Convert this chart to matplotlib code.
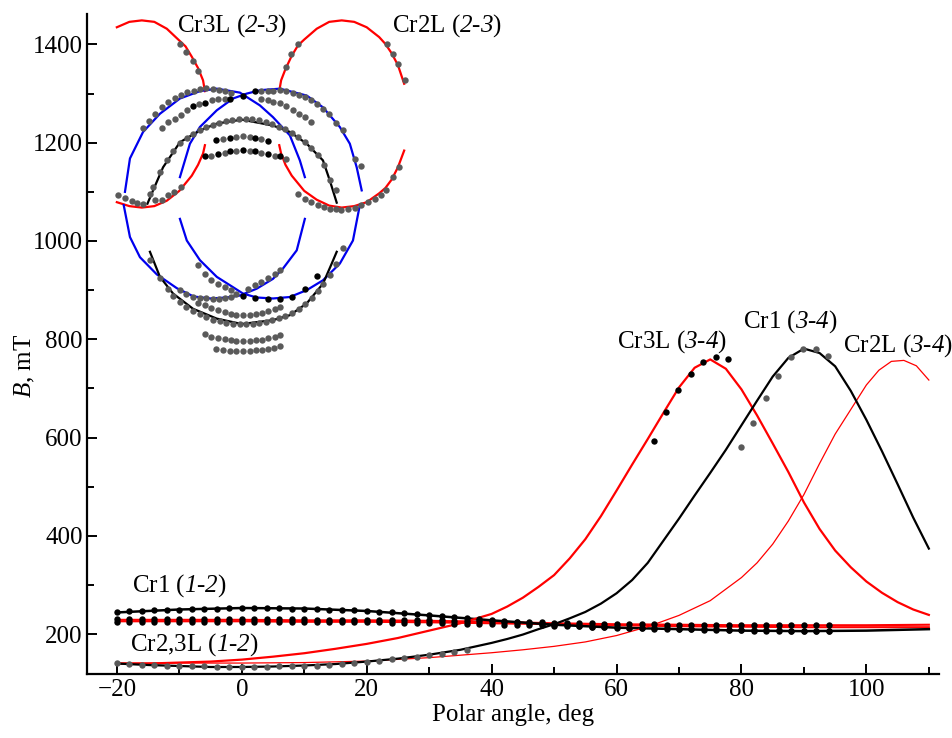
import numpy as np
import matplotlib
matplotlib.use("Agg")
import matplotlib.pyplot as plt
from matplotlib.ticker import MultipleLocator

plt.rcParams['font.family'] = ['Liberation Serif', 'DejaVu Serif']
plt.rcParams['mathtext.fontset'] = 'custom'
# digits in mathtext are taken from the "rm" font, so make it italic too
plt.rcParams['mathtext.rm'] = 'Liberation Serif:italic'
plt.rcParams['mathtext.it'] = 'Liberation Serif:italic'

GRAY = "#5a5a5a"

# ---------------- low-field branch (1-2) ----------------
ang_12 = [-20, -10, 0, 10, 20, 30, 40, 50, 60, 70, 80, 90, 100, 110]
cr1_12 = [244, 250, 253, 252, 247, 238, 228, 219, 213, 210, 207, 206, 207, 210]
cr23_12a = [229, 229, 229, 228, 228, 227, 225, 222, 220, 219, 218, 218, 218, 219]
cr23_12b = [226, 226, 226, 225, 225, 224, 222, 220, 218, 216, 215, 214, 214, 214]

# measured points on the (1-2) lines, every 2 deg
dots12_x = list(range(-20, 96, 2))
dots_cr1_12 = [244, 246, 247, 248, 249, 250, 251, 252, 252, 253, 253, 253, 253, 253, 252,
               252, 251, 250, 249, 248, 247, 245, 244, 242, 240, 238, 236, 234, 232, 230,
               228, 226, 224, 222, 221, 219, 218, 217, 215, 214, 213, 212, 212, 211, 211,
               210, 210, 209, 209, 208, 208, 207, 207, 207, 206, 206, 206, 206]
dots_cr23_12a = [230, 230, 230, 230, 230, 230, 230, 230, 230, 230, 230, 230, 230, 230, 230,
                 230, 229, 229, 229, 229, 229, 229, 229, 228, 228, 228, 228, 227, 227, 226,
                 226, 225, 225, 224, 224, 223, 223, 222, 222, 221, 221, 220, 220, 220, 219,
                 219, 219, 219, 218, 218, 218, 218, 218, 218, 218, 218, 218, 218]
dots_cr23_12b = [225, 225, 225, 225, 225, 225, 225, 225, 225, 225, 225, 225, 225, 225, 225,
                 225, 224, 224, 224, 224, 224, 224, 223, 223, 223, 222, 222, 221, 221, 220,
                 220, 219, 219, 218, 218, 217, 217, 216, 215, 214, 214, 213, 213, 212, 212,
                 211, 211, 210, 210, 209, 209, 208, 208, 208, 207, 207, 207, 207]
dots23L_x = list(range(-20, 38, 2))
dots23L_12 = [141, 139, 138, 137, 136, 135, 134, 134, 133, 133, 133, 133, 133, 134, 134,
              135, 136, 138, 140, 142, 144, 146, 149, 151, 154, 157, 160, 163, 167]

# ---------------- high-field branch (3-4) ----------------
ang_cr1_34 = [-20, -15, -10, -5, 0, 5, 10, 15, 20, 25, 30, 35, 40, 42.5, 45, 47.5, 50, 52.5,
              55, 57.5, 60, 62.5, 65, 67.5, 70, 72.5, 75, 77.5, 80, 82.5, 85, 87.5, 90,
              92.5, 95, 97.5, 100, 102.5, 105, 107.5, 110]
cr1_34 = [140, 137, 135, 133, 133, 134, 136, 139, 144, 150, 158, 168, 182, 190, 199, 210,
          220, 232, 245, 262, 283, 310, 345, 390, 435, 482, 528, 575, 625, 675, 724, 762,
          781, 772, 745, 695, 636, 572, 505, 437, 374]
ang_cr3_34 = [-20, -15, -10, -5, 0, 5, 10, 15, 20, 25, 30, 35, 40, 42.5, 45, 47.5, 50, 52.5,
              55, 57.5, 60, 62.5, 65, 67.5, 70, 72.5, 75, 77.5, 80, 82.5, 85, 87.5, 90,
              92.5, 95, 97.5, 100, 102.5, 105, 107.5, 110]
cr3_34 = [140, 140, 142, 144, 148, 154, 161, 170, 180, 192, 207, 222, 241, 256, 274, 296,
          320, 354, 393, 440, 492, 545, 597, 650, 702, 742, 759, 740, 698, 645, 588, 530,
          468, 414, 370, 336, 307, 284, 265, 250, 239]
ang_cr2_34 = [-20, -10, 0, 10, 20, 30, 40, 45, 50, 55, 60, 65, 70, 75, 80, 82.5, 85, 87.5,
              90, 92.5, 95, 97.5, 100, 102, 104, 106, 108, 110]
cr2_34 = [141, 141, 141, 142, 145, 152, 162, 168, 175, 184, 197, 215, 238, 268, 315, 345,
          383, 430, 484, 547, 607, 657, 707, 737, 755, 757, 746, 717]

dots_cr3_34_x = [66, 67.9, 69.9, 71.9, 73.9, 75.9, 77.9]
dots_cr3_34 = [593, 651, 696, 730, 754, 764, 759]
dots_cr1_34_x = [80, 81.9, 83.9, 85.9, 87.9, 89.9, 91.9, 93.9]
dots_cr1_34 = [580, 630, 681, 725, 763, 780, 781, 766]

# ---------------- (2-3) branch ----------------
cr3_23_up_x = [-20, -18, -16, -14, -12, -10, -9, -8, -7, -6.2, -5.9]
cr3_23_up = [1435, 1446, 1449, 1446, 1432, 1408, 1396, 1375, 1352, 1327, 1305]
cr3_23_lo_x = [-20, -18, -16, -14, -12, -10, -8, -7, -6.2, -5.9]
cr3_23_lo = [1079, 1071, 1068, 1071, 1082, 1102, 1133, 1155, 1178, 1195]
cr2_23_up_x = [6.0, 6.3, 7, 8, 9, 10, 12, 14, 16, 18, 20, 22, 23, 24, 25, 26]
cr2_23_up = [1305, 1327, 1350, 1377, 1398, 1410, 1432, 1446, 1449, 1446, 1435, 1415, 1401,
             1382, 1358, 1320]
cr2_23_lo_x = [6.0, 6.3, 7, 8, 10, 12, 14, 16, 18, 20, 22, 23, 24, 25, 26]
cr2_23_lo = [1195, 1178, 1155, 1133, 1102, 1084, 1072, 1068, 1071, 1079, 1097, 1108, 1125,
             1150, 1184]

blueL_up_x = [-18.7, -17.9, -15.8, -13.1, -9.9, -6.7, -4, -0.3, 2.9, 5, 7.7, 9.3, 10.1]
blueL_up = [1100, 1168, 1222, 1259, 1290, 1305, 1310, 1302, 1276, 1252, 1215, 1164, 1130]
blueL_lo_x = [-18.9, -17.9, -16.3, -13.6, -10.4, -7.7, -5, -2.4, -0.3, 2.4, 5, 6.6, 8.8, 10.1]
blueL_lo = [1073, 1008, 967, 932, 904, 887, 883, 885, 889, 903, 923, 944, 981, 1045]
blueR_up_x = [-9.9, -8.3, -6.7, -4, -1.4, 0.8, 3, 6.1, 10.4, 13, 15.7, 17.3, 18.4, 19.2]
blueR_up = [1130, 1198, 1232, 1266, 1290, 1300, 1307, 1310, 1296, 1272, 1232, 1198, 1150, 1103]
blueR_lo_x = [-9.9, -8.8, -6.7, -4, -1.4, 0.2, 2.4, 5, 7.7, 10.4, 13, 15.7, 17.8, 18.9]
blueR_lo = [1045, 1001, 961, 927, 906, 893, 885, 883, 886, 900, 920, 954, 1001, 1073]

blk_up_x = [-15.1, -14.2, -12.6, -9.9, -6.7, -4, 0, 5, 7.7, 10.4, 13, 14.1, 15.2]
blk_up = [1076, 1103, 1150, 1201, 1225, 1239, 1247, 1235, 1222, 1198, 1164, 1123, 1078]
blk_lo_x = [-14.7, -13.1, -11, -7.8, -4, 0, 5, 7.7, 10.4, 13, 14.4, 15.2]
blk_lo = [978, 927, 893, 862, 842, 831, 839, 849, 873, 913, 954, 978]

# measured points (2-3), grey
rowA_x = [-15.8, -14.8, -13.9, -12.85, -11.8, -10.7, -9.8, -8.75, -7.7, -6.7, -5.65, -4.6,
          -3.6, -2.7, -1.75, 3.15, 4.2, 5.0, 6.1, 7.15, 8.2, 9.2, 10.2, 11.15, 12.1, 13.0,
          14.0, 15.15, 16.2, 18.1, 19.15]
rowA = [1229, 1245, 1259, 1272, 1283, 1292, 1298, 1303, 1306, 1309, 1311, 1310, 1308, 1305,
        1302, 1306, 1306, 1306, 1308, 1305, 1301, 1298, 1293, 1287, 1279, 1269, 1258, 1240,
        1225, 1166, 1152]
rowB_x = [-12.85, -11.8, -10.7, -9.8, -8.75, -6.9, -4.75, -3.8, -2.7, 3.15, 4.2, 5.0, 6.1,
          7.15, 8.2, 9.2, 10.2, 11.15]
rowB = [1229, 1242, 1249, 1257, 1266, 1278, 1286, 1288, 1290, 1290, 1286, 1283, 1280, 1274,
        1266, 1259, 1252, 1243]
rowC_x = [-3, -0.85, 0.2, 1.3, 3.15]
rowC = [1208, 1211, 1213, 1211, 1207]
rowD_x = [-4.85, -2.7, -0.85, 1.3, 3.15, 5.3, 7.15]
rowD = [1174, 1179, 1184, 1184, 1179, 1174, 1166]
rowF_x = [-14.2, -13.1, -12, -11, -9.9, -8.8, -7.8, -6.7, -5.7, -4.6, -3.6, -2.5, -1.5, -0.4,
          0.6, 1.7, 2.7, 3.8, 4.8, 5.9, 6.9, 8, 9, 10.1, 11.1, 12.2, 13.2, 14.2]
rowF = [1110, 1140, 1165, 1183, 1200, 1210, 1218, 1226, 1232, 1237, 1241, 1245, 1247, 1249,
        1249, 1248, 1246, 1242, 1238, 1233, 1227, 1220, 1212, 1202, 1190, 1175, 1155, 1125]
rowE_x = [-19.8, -18.7, -17.65, -16.75, -15.8, -14.7, -13.9, -12.85, -11.8, -10.9, -9.8,
          9, 10.1, 11.15, 12.2, 13.1, 14.1, 15.15, 15.9, 17, 18.1, 19.15, 20.2, 21.3, 22.35,
          23.1, 24.2, 25.2, 15.15]
rowE = [1093, 1088, 1081, 1077, 1076, 1096, 1083, 1083, 1093, 1100, 1110,
        1096, 1086, 1079, 1073, 1069, 1066, 1066, 1064, 1066, 1068, 1073, 1079, 1086, 1093,
        1104, 1130, 1150, 1103]
rowR_x = [-9.9, -8.85, -7.8, -7.0, 7.15, 7.95, 9.0, 23.2, 24.2, 25.0, 26.1]
rowR = [1401, 1384, 1367, 1347, 1354, 1381, 1401, 1401, 1381, 1361, 1327]
rowG_x = [-9.9, -8.85, -7.8, -6.7, -5.65, -4.6, -3.6, -2.7, -1.65]
rowG = [900, 893, 886, 883, 883, 881, 881, 883, 886]
rowV_x = [-7, -5.9, -4.85, -3.8, -2.7, -1.65, -0.85, 1, 2.1, 3.15, 4.2, 5.3, 6.1]
rowV = [951, 932, 921, 913, 906, 900, 893, 903, 910, 917, 924, 932, 940]
rowH_x = [-7, -5.9, -4.85, -3.8, -2.7, -1.65, -0.85, 0.2, 1.3, 2.35, 3.3, 4.2, 5.3, 6.1]
rowH = [873, 869, 864, 859, 856, 852, 850, 849, 849, 852, 854, 857, 862, 866]
rowK_x = [-14.7, -13.1, -11.8, -11, -9.9, -8.85, -7.8, -6.7, -5.65, -4.6, -3.5, -2.45, -1.4,
          -0.3, 0.7, 1.8, 2.8, 3.9, 4.9, 6, 7, 8.1, 9.1, 10.2, 11.2, 12.2, 13, 14.1, 15.15, 16.2]
rowK = [961, 924, 903, 889, 876, 866, 858, 852, 845, 840, 837, 833, 832, 831, 831, 832, 834,
        836, 839, 843, 847, 853, 861, 871, 884, 898, 913, 930, 954, 985]
row800_x = [-5.9, -4.85, -3.8, -2.7, -1.65, -0.85, 0.2, 1.3, 2.35, 3.3, 4.2, 5.3, 6.1]
row800 = [810, 805, 802, 800, 798, 797, 797, 797, 798, 799, 802, 805, 808]
row776_x = [-4.05, -3, -1.9, -0.85, 0.2, 1.3, 2.35, 3.3, 4.2, 5.2, 6.1]
row776 = [781, 778, 776, 776, 776, 776, 778, 778, 781, 783, 786]

# measured points (2-3), black
blkB_x = [-7.8, -5.9, -1.9, 0.2, 2.1]
blkB = [1274, 1281, 1290, 1296, 1305]
blkC_x = [-4.05, -1.9, 2.1, 4.2]
blkC = [1205, 1210, 1210, 1204]
blkD_x = [-5.9, -3.8, -1.9, 0.2, 2.1, 4.2, 6.1]
blkD = [1172, 1178, 1183, 1186, 1183, 1178, 1173]
blkG_x = [0.2, 2.1, 4.2, 6.1, 8.1, 10.1, 12.05]
blkG = [889, 883, 881, 881, 887, 903, 928]

fig = plt.figure(figsize=(9.53, 7.38), dpi=100)
ax = fig.add_axes([0.0918, 0.0867, 0.894, 0.895])

# lines
ax.plot(ang_12, cr23_12a, color="red", lw=1.5, zorder=2)
ax.plot(ang_12, cr23_12b, color="red", lw=1.5, zorder=2)
ax.plot(ang_12, cr1_12, color="black", lw=1.8, zorder=2)
ax.plot(ang_cr3_34, cr3_34, color="red", lw=1.6, zorder=2)
ax.plot(ang_cr2_34, cr2_34, color="red", lw=0.9, zorder=2)
ax.plot(ang_cr1_34, cr1_34, color="black", lw=1.6, zorder=2)

for xs, ys in [(cr3_23_up_x, cr3_23_up), (cr3_23_lo_x, cr3_23_lo),
               (cr2_23_up_x, cr2_23_up), (cr2_23_lo_x, cr2_23_lo)]:
    ax.plot(xs, ys, color="red", lw=1.6, zorder=2)
for xs, ys in [(blueL_up_x, blueL_up), (blueL_lo_x, blueL_lo),
               (blueR_up_x, blueR_up), (blueR_lo_x, blueR_lo)]:
    ax.plot(xs, ys, color="#0000ee", lw=1.6, zorder=2)
for xs, ys in [(blk_up_x, blk_up), (blk_lo_x, blk_lo)]:
    ax.plot(xs, ys, color="black", lw=1.6, zorder=2)

# points
ms = 4.6
for xs, ys in [(rowA_x, rowA), (rowB_x, rowB), (rowC_x, rowC), (rowD_x, rowD),
               (rowF_x, rowF), (rowE_x, rowE), (rowR_x, rowR), (rowG_x, rowG),
               (rowV_x, rowV), (rowH_x, rowH), (rowK_x, rowK), (row800_x, row800),
               (row776_x, row776), (dots23L_x, dots23L_12), (dots_cr1_34_x, dots_cr1_34)]:
    ax.plot(xs, ys, "o", color=GRAY, ms=ms, mew=0, zorder=3)
for xs, ys in [(blkB_x, blkB), (blkC_x, blkC), (blkD_x, blkD), (blkG_x, blkG),
               (dots_cr3_34_x, dots_cr3_34), (dots12_x, dots_cr1_12),
               (dots12_x, dots_cr23_12a), (dots12_x, dots_cr23_12b)]:
    ax.plot(xs, ys, "o", color="black", ms=ms, mew=0, zorder=4)

# labels
fs = 18
ax.text(-10.4, 1427, r"Cr3L ($2$-$3$)", fontsize=fs)
ax.text(24.0, 1427, r"Cr2L ($2$-$3$)", fontsize=fs)
ax.text(60.0, 784, r"Cr3L ($3$-$4$)", fontsize=fs)
ax.text(80.2, 824, r"Cr1 ($3$-$4$)", fontsize=fs)
ax.text(96.3, 774, r"Cr2L ($3$-$4$)", fontsize=fs)
ax.text(-17.65, 286, r"Cr1 ($1$-$2$)", fontsize=fs)
ax.text(-17.9, 167, r"Cr2,3L ($1$-$2$)", fontsize=fs)

ax.set_xlim(-24.7, 111.7)
ax.set_ylim(118.7, 1463)
ax.xaxis.set_major_locator(MultipleLocator(20))
ax.xaxis.set_minor_locator(MultipleLocator(10))
ax.yaxis.set_major_locator(MultipleLocator(200))
ax.yaxis.set_minor_locator(MultipleLocator(100))
ax.tick_params(which="both", direction="in", width=1.4, labelsize=18)
ax.tick_params(which="major", length=7)
ax.tick_params(which="minor", length=5)
for s in ["top", "right"]:
    ax.spines[s].set_visible(False)
for s in ["left", "bottom"]:
    ax.spines[s].set_linewidth(1.6)

ax.set_xlabel("Polar angle, deg", fontsize=18, labelpad=2)
ax.set_ylabel(r"$B$, mT", fontsize=18)
ax.yaxis.set_label_coords(-0.059, 0.466)

fig.savefig("out.png", dpi=100)
